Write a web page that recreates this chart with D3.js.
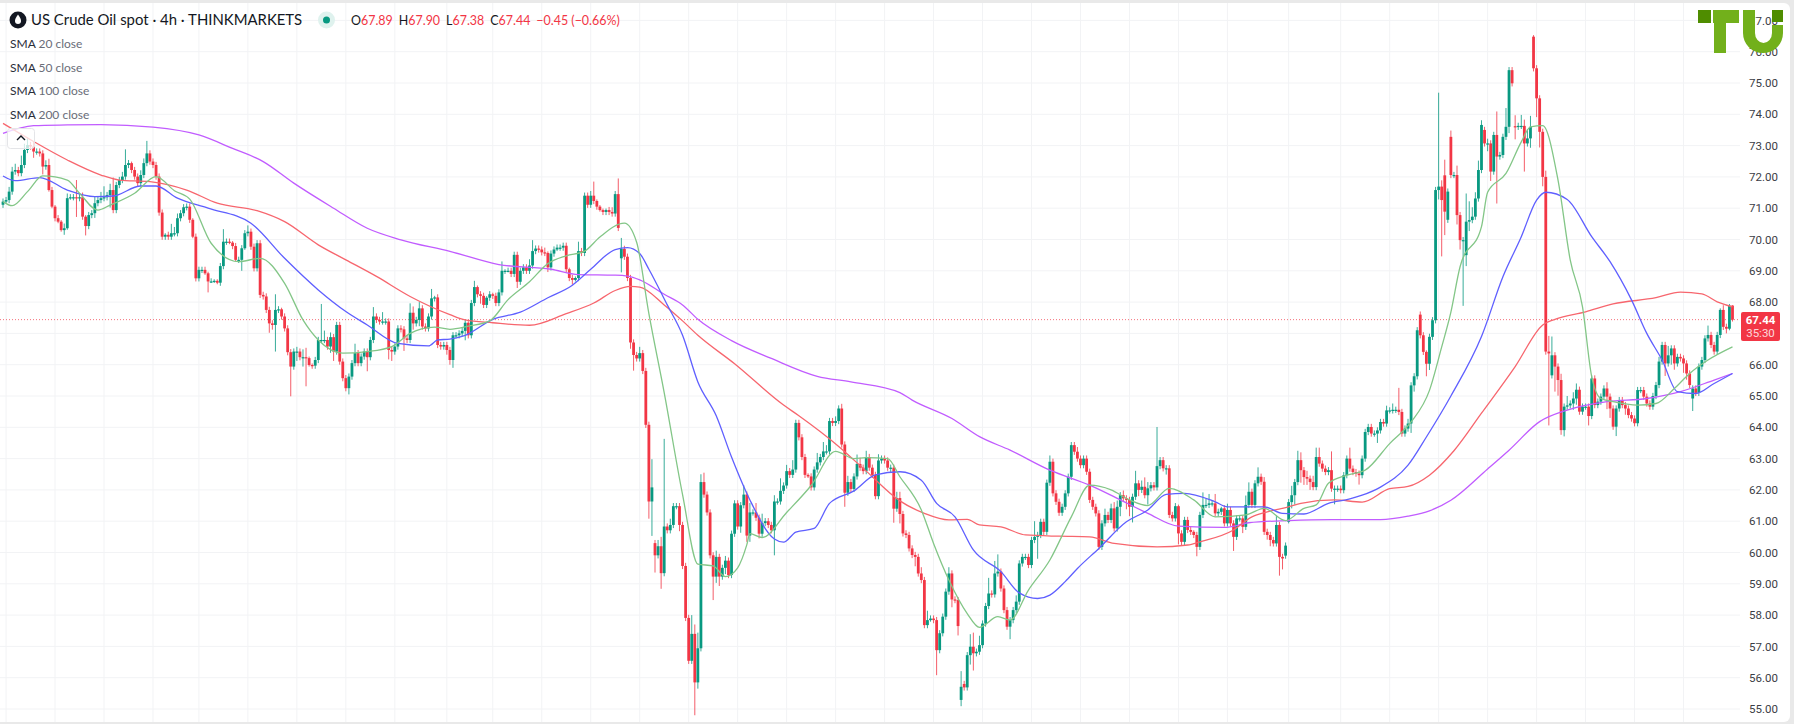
<!DOCTYPE html>
<html><head><meta charset="utf-8">
<script src="https://cdn.jsdelivr.net/npm/d3@7/dist/d3.min.js"></script>
<style>html,body{margin:0;padding:0;background:#e9e9e9;overflow:hidden}svg{display:block}text{font-family:Lato,"Open Sans",sans-serif}</style>
</head><body><svg id="c" width="1794" height="724"></svg>
<script>
const closes=[
71.21,71.26,71.53,72.17,72.22,72.12,72.38,72.86,73.02,72.97,
72.81,72.81,72.75,72.33,72.38,71.58,71.05,70.68,70.57,70.3,
70.36,71.32,71.35,71.35,71.32,71.35,70.73,70.43,70.78,70.84,
71.16,71.26,71.32,71.35,71.42,71.58,70.94,71.74,71.9,72.01,
72.38,72.44,72.22,72.01,71.8,72.06,72.44,72.75,72.49,72.38,
72.01,70.86,70.09,70.15,70.09,70.2,70.2,70.68,70.84,71.03,
71.05,70.63,70.09,68.76,69.03,69.03,68.92,68.66,68.66,68.68,
68.62,69.15,69.93,69.93,69.9,69.79,69.35,69.35,69.72,70.2,
70.25,69.77,69.08,69.88,68.23,68.18,67.75,67.32,67.27,67.75,
67.77,67.54,67.16,66.4,65.94,66.42,66.42,66.24,66.24,66.21,
65.99,65.97,66.15,66.79,66.79,66.79,66.58,66.88,66.42,67.27,
66.1,65.57,65.25,65.62,66.05,66.37,66.05,66.26,66.42,66.24,
66.79,67.54,67.43,67.38,67.38,67.38,66.47,66.42,66.58,67.16,
67.13,66.84,66.79,67.66,67.32,67.43,67.8,67.22,67.16,67.54,
68.12,68.15,66.63,66.58,66.63,66.47,66.15,66.94,66.94,67.0,
67.08,67.34,66.94,67.97,68.48,68.25,68.2,67.91,68.14,68.25,
68.2,67.97,68.31,69.0,69.0,69.0,68.9,69.51,68.65,69.0,
69.11,69.0,69.17,69.63,69.71,69.68,69.59,69.57,69.11,69.55,
69.68,69.74,69.74,69.8,69.05,68.77,68.71,68.77,69.63,69.57,
71.4,71.11,71.4,71.23,71.05,70.94,70.88,70.94,70.88,70.83,
71.45,70.37,69.7,69.45,68.77,66.71,66.31,66.2,66.37,65.8,
64.08,61.63,62.08,59.91,60.2,59.34,60.83,60.71,60.88,61.48,
61.48,60.88,59.57,57.91,56.54,57.4,55.85,56.94,62.25,61.85,
61.28,59.91,59.23,59.86,59.23,59.51,59.74,59.28,60.6,61.57,
60.83,61.51,61.85,60.54,61.28,61.28,61.11,60.6,60.94,61.0,
60.88,60.71,61.63,61.63,61.97,62.14,62.6,62.48,62.65,64.14,
63.68,63.05,62.48,62.43,62.08,62.65,62.88,63.05,63.23,63.23,
64.2,64.14,64.2,64.6,63.45,61.91,62.25,62.03,62.43,62.83,
62.71,62.6,63.05,62.71,62.48,61.8,62.94,63.0,62.94,62.71,
62.71,61.4,61.74,61.23,60.61,60.56,60.13,59.92,59.86,59.33,
59.12,57.68,57.84,57.89,57.84,56.88,57.42,57.95,58.75,59.33,
58.5,58.48,57.65,55.71,55.69,56.72,56.99,56.78,56.83,57.04,
57.73,58.29,58.69,58.66,59.33,59.39,58.85,58.16,57.63,57.84,
58.16,58.43,59.65,59.86,59.86,59.6,60.4,60.5,60.56,60.98,
60.66,62.23,62.9,61.89,61.62,61.27,61.46,61.89,62.42,63.43,
63.22,63.0,62.79,63.0,62.58,61.68,61.46,61.25,60.18,60.93,
61.2,61.04,61.41,60.77,61.46,61.83,61.73,61.68,61.46,61.78,
62.21,62.0,62.1,61.83,62.05,62.15,62.08,62.76,62.95,62.69,
62.69,61.2,61.09,61.48,60.61,60.34,61.04,60.72,60.66,60.56,
60.18,61.2,61.52,61.52,61.57,61.57,61.25,61.3,61.41,60.93,
61.36,60.93,60.5,61.09,61.09,60.82,61.52,61.94,61.52,62.21,
62.42,62.26,60.66,60.56,60.4,60.29,60.88,59.86,59.81,60.22,
61.61,61.83,62.25,62.95,62.63,62.41,62.36,62.25,62.09,63.05,
62.84,62.68,62.57,62.63,62.04,62.04,62.04,61.99,62.47,63.0,
62.68,62.57,62.52,62.47,63.0,63.85,64.01,63.8,63.8,63.9,
64.17,64.12,64.54,64.54,64.56,64.56,64.49,63.8,63.96,64.12,
65.34,65.63,67.1,66.94,66.41,66.03,66.89,67.42,71.58,71.69,
71.26,70.89,71.53,72.06,72.06,70.78,69.98,69.98,70.57,70.62,
70.73,71.31,72.22,73.66,73.07,73.07,72.17,73.34,72.65,72.7,
73.28,73.6,75.41,74.99,73.6,73.63,73.63,73.07,73.23,73.6,
75.47,74.51,73.44,72.0,66.42,66.36,66.3,65.94,65.51,63.91,
64.66,64.7,64.76,64.92,65.2,64.5,64.66,64.66,64.36,65.56,
64.71,64.82,64.98,65.24,64.98,64.6,64.02,64.6,64.87,64.71,
64.6,64.39,64.28,64.13,65.19,65.19,64.98,64.76,64.66,65.0,
65.35,66.1,66.63,66.04,66.3,66.52,66.04,66.25,66.2,66.04,
65.72,65.35,65.24,65.1,65.94,66.15,66.84,66.95,66.63,66.42,
66.95,67.75,67.21,67.15,67.89,67.44];
const gapOpens=[[202,69.4],[213,60.3],[313,55.29],[314,55.8],[419,59.9],[420,60.98],[463,67.6],[471,72.05],[472,70.63],[473,73.28],[478,69.5],[484,73.5],[494,73.62],[500,76.48],[506,65.66],[552,64.92],[565,67.89]];
const upperWicks=[
.1,.1,.15,.15,.2,.1,.3,.2,.25,.1,
.15,.1,.1,.1,.15,.2,.1,.05,.1,.05,
.15,.15,.1,.1,.55,.1,.15,.05,.1,.1,
.2,.1,.2,.35,.1,.2,.4,.1,.1,.15,
.5,.1,.05,.1,.1,.15,.15,.4,.1,.1,
.1,.1,.1,.05,.1,.3,.2,.15,.1,.1,
.1,.1,.05,.1,.1,.1,.1,.05,.1,.05,
.05,.1,.4,.1,.1,.05,.1,.1,.1,.1,
.2,.1,.1,.1,.1,.1,.1,.1,.1,.5,
.1,.05,.1,.1,.1,.1,.15,.1,.25,.3,
.05,.05,.1,.1,1.15,.3,.1,.15,.1,.1,
.1,.1,.1,.1,.1,.3,.1,.1,.1,.1,
.1,.3,.1,.1,.3,.1,.1,.1,.1,.1,
.1,.1,.1,.3,.2,.1,.2,.1,.1,.1,
.3,.05,.1,.1,.1,.1,.1,.1,.1,.1,
.1,.1,.05,.1,.2,.05,.1,.1,.05,.1,
.05,.1,.1,.3,.05,.1,.1,.1,.1,.1,
.1,.1,.2,.35,.1,.1,.1,.15,.05,.1,
.1,.1,.1,.1,.1,.05,.1,.05,.3,.1,
.1,.1,.15,.45,.05,.05,.05,.05,.1,.15,
.1,.5,.35,.1,.1,.1,.1,.1,.2,.1,
.1,.1,.9,.1,.2,.3,2.8,.1,.2,.1,
.1,.1,.1,.1,.1,.6,.3,.5,.25,.3,
.1,.1,.1,.2,.1,.1,.15,.1,.1,.1,
.1,.1,.3,.1,.3,.1,.3,.1,.3,.1,
.1,.1,.2,.1,.4,.1,.2,.1,.3,.1,
.1,.1,.1,.05,.1,.1,.3,.1,.3,.2,
.1,.1,.15,.1,.15,.1,.2,.1,.1,.3,
.2,.1,.2,.1,.1,.1,.2,.1,.1,.1,
.1,.1,.2,.2,.1,.1,.1,.1,.1,.1,
.2,.1,.3,.1,.1,.1,.1,.1,.1,.2,
.1,.1,.1,.5,.1,.1,.4,.45,.1,.3,
.1,.1,.5,.1,.4,.55,.1,.1,.1,.1,
.1,.2,.1,.1,.1,.1,.1,.5,.1,.1,
.1,.1,.2,.1,.1,.1,.1,.1,.1,.1,
.1,.15,.1,.1,.1,.1,.1,.1,.1,.1,
.2,.1,.15,.2,.2,.1,.15,.1,.1,.1,
.4,.1,.2,.3,.2,.1,.1,1.25,.1,.1,
.1,.1,.1,.1,.05,.1,.1,.1,.1,.05,
.1,.1,.4,.2,.3,.1,.3,.1,.05,.1,
.2,.1,.1,.1,.1,.1,.3,.3,.1,.1,
.3,.1,.15,.1,.1,.1,.3,.1,.1,.1,
.1,.3,.1,.3,.25,.1,.2,.1,.2,.3,
.3,.1,.1,.1,.6,.1,.1,.1,.1,.1,
.35,.1,.1,.1,.1,.1,.1,.1,.1,.1,
.1,.1,.15,.1,.2,.1,.7,.1,.1,.15,
.1,.1,.1,.1,.1,.05,.1,.1,.1,3.0,
.2,.5,.1,.2,.1,.3,.1,.1,.9,.6,
.3,.2,.3,.15,.1,.15,.1,.1,.75,.1,
.1,.6,.1,.1,.35,.1,.35,.2,.3,.35,
.05,.1,.1,.1,.2,.5,.6,.1,.1,.2,
.1,.3,.1,.2,.2,.1,.1,.1,.1,.1,
.1,.1,.1,.1,.2,.1,.1,.1,.1,.1,
.1,.1,.1,.1,.1,.1,.1,.1,.1,.1,
.1,.15,.1,.1,.3,.1,.1,.1,.1,.1,
.1,.1,.1,.1,.1,.1,.1,.3,.1,.1,
.1,.05,.15,.1,.05,.01];
const lowerWicks=[
.1,.05,.1,.1,.1,.1,.1,.1,.1,.1,
.2,.1,.1,.25,.1,.05,.05,.1,.05,.05,
.15,.05,.05,.1,.6,.1,.1,.3,.1,.1,
.15,.1,.1,.1,.1,.4,.1,.1,.1,.1,
.1,.1,.1,.1,.1,.1,.1,.1,.1,.1,
.1,.1,.1,.1,.1,.1,.1,.1,.1,.1,
.1,.1,.05,.1,.1,.1,.05,.35,.05,.05,
.05,.1,.1,.1,.05,.1,.05,.1,.35,.05,
.1,.1,.1,.1,.1,.1,.1,.3,.15,.85,
.1,.1,.1,.1,.95,.1,.3,.1,.3,.9,
.05,.1,.1,.1,.1,.1,.1,.2,.3,.1,
.1,.1,.1,.2,.1,.1,.1,.1,.1,.45,
.1,.1,.1,.1,.1,.1,.3,.3,.1,.1,
.1,.4,.1,.1,.2,.1,.2,.1,.1,.1,
.1,.1,.1,.1,.1,.15,.15,.25,.1,.1,
.1,.3,.1,.1,.1,.1,.25,.1,.1,.1,
.1,.1,.1,.1,.1,.05,.1,.1,.2,.1,
.1,.1,.1,.1,.1,.1,.1,.1,.15,.1,
.1,.05,.1,.1,.1,.1,.15,.05,.1,.1,
.1,.1,.1,.1,.1,.05,.1,.1,.1,.1,
.1,.1,.45,.1,.1,.2,.5,.1,.1,.1,
.1,.55,1.1,.55,.1,.5,.1,.1,.1,.1,
.1,.2,.1,.1,.1,.1,1.05,.2,.1,.1,
.1,.1,.75,.2,.3,.1,.2,.1,.1,.1,
.1,.2,.1,.2,.2,.1,.1,.15,.1,.1,
.1,.1,.8,.1,.1,.1,.1,.1,.1,.1,
.1,.1,.1,.05,.1,.1,.1,.1,.1,.1,
.1,.1,.1,.1,.1,.45,.1,.1,.1,.1,
.1,.1,.1,.1,.1,.1,.1,.1,.1,.1,
.15,.45,.1,.3,.1,.1,.1,.1,.3,.1,
.1,.1,.1,.05,.1,.8,.1,.1,.1,.1,
.25,.1,.3,.2,.1,.1,.3,.55,.1,.1,
.1,.1,.1,.1,.1,.1,.1,.1,.1,.4,
.1,.1,.1,.1,.1,.1,.1,.1,.7,.1,
.1,.1,.1,.1,.1,.1,.1,.1,.1,.1,
.1,.1,.1,.1,.1,.1,.1,.1,.1,.1,
.1,.1,.1,.1,.1,.3,.1,.3,.3,.5,
.1,.2,.1,.1,.3,.1,.1,.1,.1,.1,
.2,.1,.1,.1,.35,.1,.1,.1,.1,.1,
.3,.1,.1,.1,.1,.1,.1,.1,.1,.1,
.1,.1,.45,.1,.1,.2,.1,.1,.1,.1,
.1,.1,.1,.15,.2,.1,.1,.6,.35,.1,
.05,.2,.3,.1,.4,.25,.2,.25,.1,.1,
.1,.1,.1,.1,.1,.5,.1,.1,.1,.1,
.1,.1,.1,.3,.1,.1,.1,.1,.1,.3,
.1,.1,.1,.1,.1,.1,.1,.1,.1,.1,
.3,.2,.1,.1,.1,.4,.2,.1,.1,.3,
1.8,.75,.1,.1,.1,.3,.3,2.1,.35,.3,
.1,.1,.1,.1,.1,.25,.3,.1,1.5,.1,
.1,.1,.2,.1,.4,.1,.1,.9,.1,.3,
.1,.6,.5,.3,.1,2.3,.1,.8,.5,.15,
.2,.1,.1,.2,.2,.1,.1,.1,.3,.1,
.1,.1,.1,.1,.4,.3,.1,.3,.1,.1,
.2,.1,.1,.1,.1,.1,.1,.1,.1,.1,
.1,.1,.1,.4,.1,.3,.2,.1,.1,.3,
.2,.1,.4,.1,.1,.1,.1,.1,.1,.1,
.1,.1,.1,.15,.05,.06];
const sma200=[[0,73.39],[10,73.64],[21,73.66],[32,73.67],[49,73.59],[64,73.34],[75,72.91],[85,72.49],[95,71.8],[108,71.0],[119,70.36],[130,69.99],[146,69.62],[162,69.2],[179,69.05],[188,68.88],[200,68.86],[204,68.83],[208,68.71],[216,68.25],[222,67.91],[227,67.45],[238,66.77],[251,66.2],[266,65.63],[277,65.45],[293,65.11],[297,64.87],[310,64.28],[319,63.7],[329,63.27],[342,62.63],[355,62.15],[364,61.73],[374,61.25],[384,60.84],[399,60.8],[407,60.95],[420,61.02],[434,61.05],[450,61.05],[459,61.16],[466,61.33],[473,61.67],[485,62.67],[492,63.27],[502,64.18],[511,64.55],[524,64.82],[537,64.92],[548,65.14],[559,65.51],[565,65.72]];
const sma100=[[0,73.71],[10,73.13],[21,72.54],[32,72.06],[38,71.9],[48,71.85],[60,71.58],[70,71.16],[83,70.92],[92,70.57],[103,69.83],[112,69.35],[122,68.82],[133,68.18],[146,67.6],[151,67.43],[160,67.34],[172,67.26],[184,67.63],[193,67.97],[200,68.37],[205,68.5],[208,68.48],[216,67.91],[222,67.4],[227,66.94],[239,66.03],[255,64.71],[260,64.37],[273,63.39],[282,62.6],[293,61.65],[301,61.25],[309,61.04],[315,61.06],[319,60.88],[326,60.82],[334,60.56],[345,60.52],[355,60.5],[363,60.29],[377,60.18],[387,60.24],[391,60.34],[402,60.72],[408,61.14],[413,61.3],[420,61.46],[424,61.57],[435,61.68],[444,61.61],[453,62.04],[459,62.11],[466,62.47],[474,63.25],[483,64.45],[494,65.94],[503,67.27],[507,67.45],[517,67.69],[526,67.94],[540,68.14],[548,68.32],[555,68.26],[560,68.01],[565,67.85]];
const sma50=[[0,72.03],[4,71.88],[12,71.98],[21,71.58],[30,71.37],[36,71.39],[45,71.71],[50,71.71],[57,71.32],[67,71.0],[81,70.52],[92,69.4],[103,68.39],[112,67.7],[119,67.27],[129,66.68],[139,66.6],[142,66.79],[146,66.82],[151,66.94],[160,67.45],[169,67.68],[178,68.14],[186,68.54],[192,69.05],[200,69.68],[204,69.74],[208,69.55],[211,69.05],[217,67.91],[222,66.94],[227,65.45],[233,64.37],[238,63.05],[244,61.68],[252,60.43],[255,60.33],[259,60.65],[265,60.77],[270,61.57],[278,61.97],[285,62.48],[293,62.58],[300,62.31],[305,61.57],[311,61.14],[317,60.08],[326,59.39],[332,58.71],[338,58.53],[342,58.64],[347,59.07],[351,59.49],[358,60.13],[367,60.98],[374,61.36],[380,61.86],[386,61.89],[396,61.62],[400,61.46],[412,61.46],[418,61.25],[425,61.23],[433,61.57],[440,61.71],[444,61.83],[450,62.09],[459,62.79],[465,63.69],[473,65.0],[483,66.9],[490,68.81],[496,70.09],[501,71.26],[504,71.51],[511,71.28],[519,70.09],[525,69.29],[532,68.07],[537,67.0],[542,66.15],[547,65.14],[553,65.08],[559,65.4],[565,65.72]];
const sma20=[[0,71.21],[3,71.08],[8,71.53],[13,72.03],[21,71.9],[25,71.48],[31,70.94],[35,71.1],[43,71.48],[50,72.01],[56,71.56],[61,71.29],[68,69.88],[77,69.29],[84,69.4],[92,68.6],[98,67.43],[103,66.79],[111,66.37],[119,66.42],[127,66.58],[133,67.0],[141,67.2],[146,67.13],[152,67.23],[159,67.4],[165,68.08],[172,68.65],[178,69.23],[184,69.48],[190,69.63],[195,70.08],[203,70.52],[207,69.91],[211,67.63],[216,65.11],[222,61.85],[227,59.63],[232,59.57],[236,59.23],[240,59.51],[243,60.25],[244,60.6],[248,60.48],[256,61.28],[264,62.14],[272,63.23],[278,63.0],[282,63.03],[289,63.0],[293,62.42],[300,61.36],[304,60.29],[309,59.12],[315,58.05],[319,57.61],[325,57.95],[329,57.84],[335,58.8],[342,59.76],[349,61.14],[355,62.15],[362,62.0],[368,61.68],[374,61.5],[381,62.05],[389,61.68],[396,61.14],[406,61.2],[412,61.41],[419,61.02],[425,61.41],[429,61.52],[433,62.21],[439,62.47],[445,62.63],[453,63.48],[460,64.17],[466,65.18],[470,66.57],[473,67.68],[476,69.13],[483,70.41],[485,71.51],[491,72.11],[496,73.12],[499,73.6],[503,73.64],[508,71.9],[512,69.34],[516,67.85],[519,65.62],[522,64.92],[526,64.82],[534,64.71],[540,64.76],[546,65.24],[551,65.72],[557,66.15],[565,66.57]];
const gridBars=[1,17,33,49,64,80,96,112,128,145,160,176,192,208,224,240,256,272,288,304,320,336,352,368,384,400,420,437,453,469,485,501,517,533,549];
const priceTicks=d3.range(55,78);
const smaLabels=["20","50","100","200"];
const ohlc=[["O","67.89"],["H","67.90"],["L","67.38"],["C","67.44"]];
const lastPrice=67.44;

const UP="#089981",DOWN="#f23645";
const gapMap=new Map(gapOpens);
const bars=closes.map((c,i)=>{
  const o=gapMap.has(i)?gapMap.get(i):(i?closes[i-1]:c-.1);
  return {i,o,c,h:Math.max(o,c)+(upperWicks[i]||0),l:Math.min(o,c)-(lowerWicks[i]||0)};
});
const x=d3.scaleLinear().domain([0,565]).range([3,1732.5]);
const y=d3.scaleLinear().domain([55,77]).range([709,20.4]);
const svg=d3.select("#c");

// panel
svg.append("rect").attr("x",-8).attr("y",3).attr("width",1798).attr("height",719).attr("rx",6).attr("fill","#fff");

// grid
const panelRight=1740;
svg.append("g").selectAll("line").data(priceTicks).join("line")
  .attr("x1",0).attr("x2",panelRight).attr("y1",d=>y(d)).attr("y2",d=>y(d)).attr("stroke","#f2f3f5");
svg.append("g").selectAll("line").data(gridBars).join("line")
  .attr("x1",d=>x(d)).attr("x2",d=>x(d)).attr("y1",3).attr("y2",722).attr("stroke","#f2f3f5");

// last price line
svg.append("line").attr("x1",0).attr("x2",panelRight).attr("y1",y(lastPrice)).attr("y2",y(lastPrice))
  .attr("stroke",DOWN).attr("stroke-width",1).attr("stroke-dasharray","1 2").attr("opacity",.7);

// candles
const col=d=>d.c>=d.o?UP:DOWN;
svg.append("g").selectAll("line").data(bars).join("line")
  .attr("x1",d=>x(d.i)).attr("x2",d=>x(d.i)).attr("y1",d=>y(d.h)).attr("y2",d=>y(d.l))
  .attr("stroke",col).attr("stroke-width",1).attr("opacity",.8);
svg.append("g").selectAll("rect").data(bars).join("rect")
  .attr("x",d=>x(d.i)-1.4).attr("width",2.8)
  .attr("y",d=>y(Math.max(d.o,d.c)))
  .attr("height",d=>Math.max(1.2,Math.abs(y(d.o)-y(d.c))))
  .attr("fill",col);

// SMA lines
const line=d3.line().x(d=>x(d[0])).y(d=>y(d[1])).curve(d3.curveMonotoneX);
[[sma200,"#c15cff"],[sma100,"#f7666e"],[sma50,"#5f5fff"],[sma20,"#83c687"]].forEach(([s,c])=>{
  svg.append("path").attr("d",line(s)).attr("fill","none").attr("stroke",c).attr("stroke-width",1.3);
});

// price axis
const ax=svg.append("g").attr("transform",`translate(1749,0)`).call(
  d3.axisRight(y).tickValues(priceTicks).tickSize(0).tickPadding(0).tickFormat(d3.format(".2f")));
ax.select(".domain").remove();
ax.selectAll("text").attr("font-size",11.5).attr("fill","#3b3d45").style("font-family","Roboto");

// last price tag
svg.append("rect").attr("x",1741).attr("y",312).attr("width",39).attr("height",29).attr("rx",2).attr("fill",DOWN);
svg.append("text").attr("x",1760.5).attr("y",324).attr("text-anchor","middle").attr("fill","#fff")
  .attr("font-size",11.5).attr("font-weight",700).style("font-family","Roboto").text(lastPrice.toFixed(2));
svg.append("text").attr("x",1760.5).attr("y",337).attr("text-anchor","middle").attr("fill","#fff").attr("opacity",.8)
  .attr("font-size",11.5).style("font-family","Roboto").text("35:30");

// logo
const logo=svg.append("g");
logo.append("rect").attr("x",1698).attr("y",10).attr("width",13).attr("height",13).attr("fill","#4f8d00");
logo.append("path").attr("d","M1713 10H1739V23H1726V53H1714V23H1713Z").attr("fill","#72b01b");
logo.append("path").attr("d","M1743 10H1755V33A8.5 10 0 0 0 1772 33V25H1783V33A20 20 0 0 1 1743 33Z").attr("fill","#72b01b");
logo.append("rect").attr("x",1772).attr("y",10).attr("width",11).attr("height",12).attr("fill","#4f8d00");

// legend
const lg=svg.append("g");
lg.append("circle").attr("cx",18).attr("cy",20).attr("r",8.5).attr("fill","#131722");
lg.append("path").attr("d","M18 14.5C15.5 18 15 19.5 15 21A3 3 0 0 0 21 21C21 19.5 20.5 18 18 14.5Z").attr("fill","#fff");
lg.append("text").attr("x",31).attr("y",25).attr("font-size",14.9).attr("fill","#131722").text("US Crude Oil spot · 4h · THINKMARKETS");
lg.append("circle").attr("cx",326.5).attr("cy",20).attr("r",8.5).attr("fill","#dff2ee");
lg.append("circle").attr("cx",326.5).attr("cy",20).attr("r",3.5).attr("fill",UP);
const ot=lg.append("text").attr("x",351).attr("y",25).attr("font-size",12.45).attr("fill",DOWN);
ohlc.forEach(([k,v],n)=>{
  ot.append("tspan").attr("fill","#131722").attr("dx",n?6:0).text(k);
  ot.append("tspan").text(v);
});
ot.append("tspan").attr("dx",6).text("−0.45 (−0.66%)");
smaLabels.forEach((s,n)=>{
  const t=lg.append("text").attr("x",10).attr("y",[47.5,71.5,95,119][n]).attr("font-size",12).attr("fill","#6a6d78");
  t.append("tspan").attr("fill","#2a2e39").text("SMA");
  t.append("tspan").text(` ${s} close`);
});
lg.append("rect").attr("x",7.5).attr("y",128.5).attr("width",27).attr("height",20).attr("rx",3).attr("fill","#fff").attr("fill-opacity",.75).attr("stroke","#e4e5e8");
lg.append("path").attr("d","M17 140L21 136L25 140").attr("fill","none").attr("stroke","#131722").attr("stroke-width",1.4);
</script></body></html>
